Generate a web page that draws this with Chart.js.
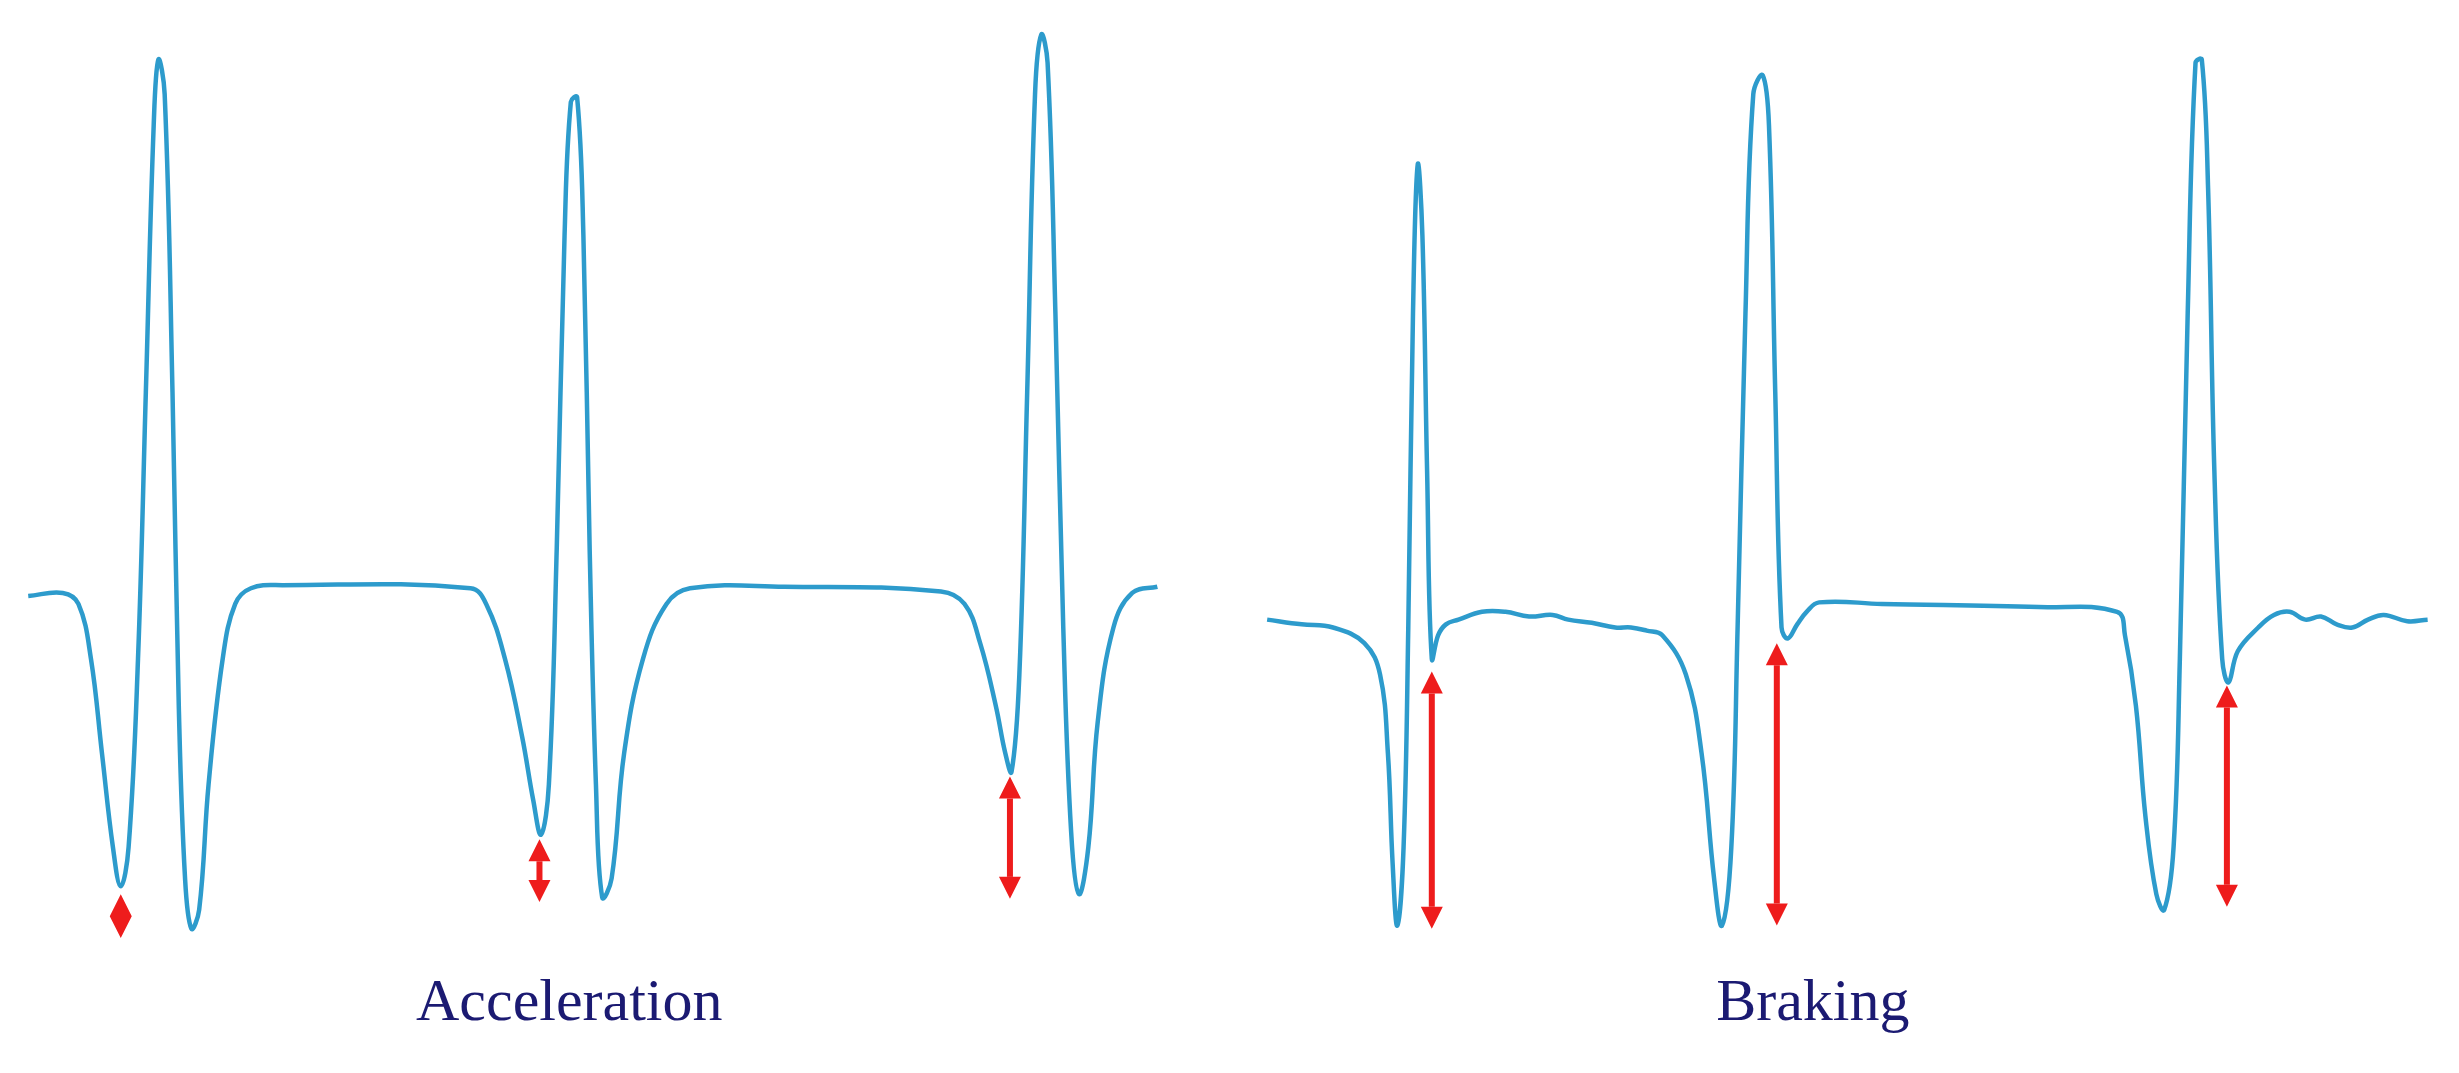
<!DOCTYPE html>
<html>
<head>
<meta charset="utf-8">
<script src="https://cdn.jsdelivr.net/npm/chart.js@4/dist/chart.umd.min.js"></script>
<style>
  html, body { margin: 0; padding: 0; background: #fff; }
  #wrap { width: 2459px; height: 1073px; }
</style>
</head>
<body>
<div id="wrap"><canvas id="chart"></canvas></div>
<script>
// time axis and signal level (level axis runs downward)
const accelTime = [18,40,50,58,65,72,77,82,88,93,98,101,105,110,114,118,122,127,133,142,150,160,180,300,310,322,333,340,345,350,355,360,364,368,372,376,380,384,390,398,410,425,440,500,600,615,625,635,641,645,650,655,660,664,668,673,678,683,688,694,700,710,722,738]
const accelLevel = [380,378,385,420,480,540,565,540,420,250,80,38,60,250,450,560,592,580,500,420,385,375,373,375,385,420,470,510,532,500,350,150,65,62,150,350,500,572,560,480,420,385,375,374,377,385,410,450,480,492,430,250,60,22,40,200,400,530,570,540,460,400,378,374]

const brakeTime = [808,830,850,870,880,885,888,891,895,898,901,904,907,910,913,917,922,930,945,960,975,990,1000,1015,1030,1040,1050,1060,1075,1085,1093,1098,1104,1108,1113,1118,1124,1128,1132,1136,1140,1146,1152,1160,1200,1300,1350,1355,1362,1368,1375,1380,1386,1390,1395,1400,1404,1408,1412,1417,1421,1427,1440,1450,1460,1470,1480,1490,1500,1510,1520,1535,1548]
const brakeLevel = [395,398,400,410,430,480,550,590,540,400,200,105,150,300,420,405,398,395,390,390,393,392,395,397,400,400,402,405,430,480,560,590,540,400,200,60,48,80,250,400,407,398,390,384,385,387,390,405,450,520,570,580,540,420,200,40,38,120,300,420,435,415,400,392,390,395,393,398,400,395,392,396,395]

// arrows: [time, top level, bottom level]
const arrowTime = [77, 344, 644, 913, 1133, 1420]
const arrowTop = [570, 535, 495, 428, 410, 437]
const arrowBottom = [598, 575, 573, 592, 590, 578]

const captions = ['Acceleration', 'Braking']
const captionTime = [363, 1156]
const captionLevel = [640, 640]

const pairs = (xs, ys) => xs.map((x, i) => ({ x, y: ys[i] }))

const arrowPlugin = {
  id: 'arrows',
  afterDatasetsDraw (chart) {
    const { ctx, scales: { x, y } } = chart
    ctx.save()
    ctx.strokeStyle = '#ee1c1c'
    ctx.fillStyle = '#ee1c1c'
    ctx.lineWidth = 6
    arrowTime.forEach((t, i) => {
      const px = x.getPixelForValue(t)
      const y1 = y.getPixelForValue(arrowTop[i])
      const y2 = y.getPixelForValue(arrowBottom[i])
      const h = Math.min(22, (y2 - y1) / 2)
      ctx.beginPath()
      ctx.moveTo(px, y1 + h)
      ctx.lineTo(px, y2 - h)
      ctx.stroke()
      ctx.beginPath()
      ctx.moveTo(px, y1); ctx.lineTo(px - 11, y1 + h); ctx.lineTo(px + 11, y1 + h); ctx.closePath()
      ctx.moveTo(px, y2); ctx.lineTo(px - 11, y2 - h); ctx.lineTo(px + 11, y2 - h); ctx.closePath()
      ctx.fill()
    })
    ctx.fillStyle = '#1b1a72'
    ctx.font = '60px "Liberation Serif", serif'
    ctx.textAlign = 'center'
    ctx.textBaseline = 'middle'
    captions.forEach((c, i) => {
      ctx.fillText(c, x.getPixelForValue(captionTime[i]), y.getPixelForValue(captionLevel[i]))
    })
    ctx.restore()
  }
}

const line = (data) => ({
  data,
  borderColor: '#2d9bcc',
  borderWidth: 4.5,
  pointRadius: 0,
  fill: false,
  showLine: true,
  tension: 0.4
})

new Chart(document.getElementById('chart'), {
  type: 'scatter',
  data: {
    datasets: [line(pairs(accelTime, accelLevel)), line(pairs(brakeTime, brakeLevel))]
  },
  options: {
    responsive: true,
    maintainAspectRatio: false,
    animation: false,
    layout: { padding: 0 },
    plugins: { legend: { display: false }, tooltip: { enabled: false } },
    scales: {
      x: { type: 'linear', min: 0, max: 1568, display: false },
      y: { type: 'linear', min: 0, max: 684, reverse: true, display: false }
    }
  },
  plugins: [arrowPlugin]
})
</script>
</body>
</html>
